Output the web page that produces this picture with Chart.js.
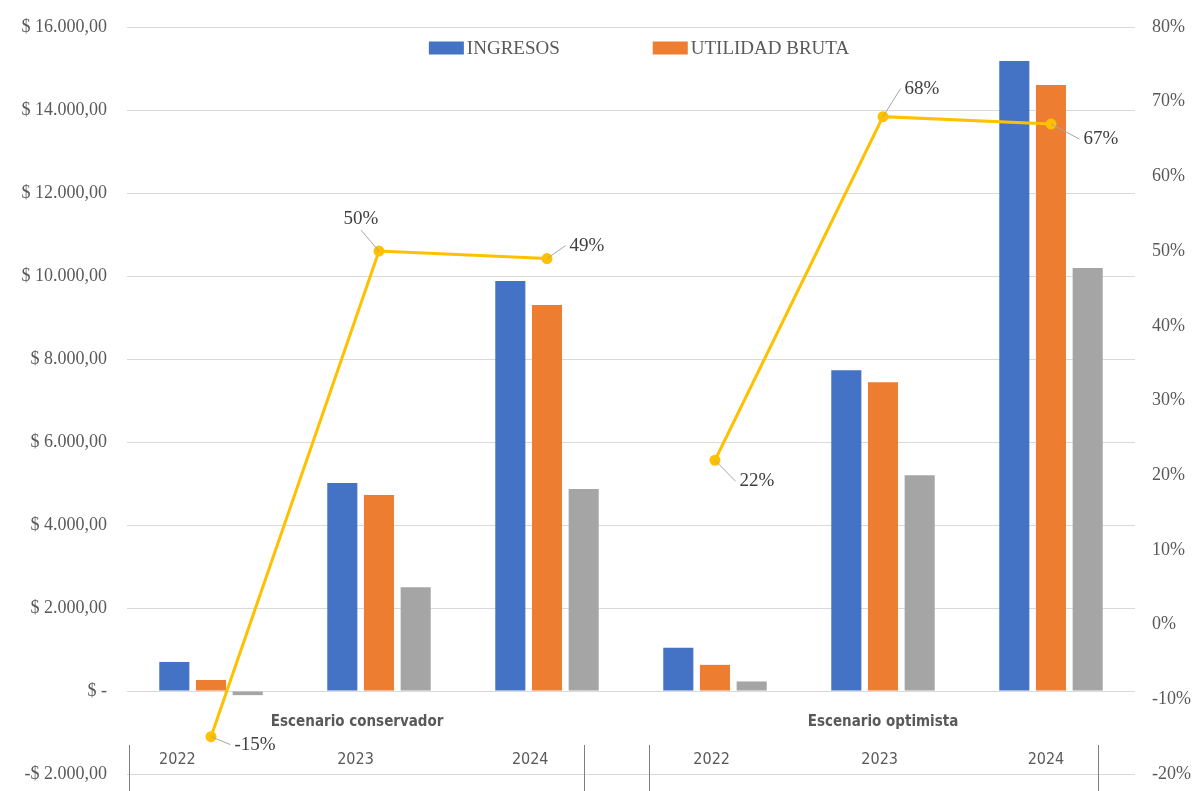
<!DOCTYPE html>
<html><head><meta charset="utf-8">
<script src="https://cdn.jsdelivr.net/npm/chart.js@4.4.1/dist/chart.umd.min.js"></script>
<style>html,body{margin:0;padding:0;background:#fff;}#wrap{width:1198px;height:791px;}</style>
</head><body><div id="wrap"><canvas id="c" width="1198" height="791"></canvas></div>
<script>
// ---- data ----
const years = ['2022', '2023', '2024', '2022', '2023', '2024'];
const groups = ['Escenario conservador', 'Escenario optimista'];
const ingresos = [700, 5010, 9880, 1040, 7730, 15180];
const utilidadBruta = [265, 4720, 9300, 630, 7440, 14600];
const utilidadNeta = [-100, 2500, 4870, 230, 5200, 10190];
const margen = [-15, 50, 49, 22, 68, 67];
const leftTicks = { min: -2000, max: 16000, step: 2000 };
const rightTicks = { min: -20, max: 80, step: 10 };

// ---- label placement (style) ----
const labelOffsets = [[44, 8], [-18, -32], [40, -13], [42, 21], [39, -28], [50, 15]];
const yearLabelShift = [-0.2, -0.14, -0.1, -0.02, -0.02, -0.03];
const groupLabelPos = [0.87, 4.0];
const separatorPos = [-0.49, 2.22, 2.61, 5.28];
const groupBreakAfter = 2; // line is not drawn between the two scenarios

const BLUE = '#4472C4', ORANGE = '#ED7D31', GRAY = '#A5A5A5', GOLD = '#FFC000';
const TXT = '#595959';
const SERIF = '"Liberation Serif", "Times New Roman", serif';
const COND = '"DejaVu Sans Condensed", "Liberation Sans Narrow", "Roboto Condensed", "Liberation Sans", sans-serif';

function money(v) {
  if (v === 0) return '$ -';
  const a = Math.abs(v).toFixed(2).split('.');
  const ip = a[0].replace(/\B(?=(\d{3})+(?!\d))/g, '.');
  return (v < 0 ? '-$ ' : '$ ') + ip + ',' + a[1];
}

const overlay = {
  id: 'overlay',
  afterDatasetsDraw(chart) {
    const ctx = chart.ctx;
    const meta = chart.getDatasetMeta(3);
    ctx.save();
    ctx.font = '19px ' + SERIF;
    ctx.textAlign = 'center';
    ctx.textBaseline = 'middle';
    meta.data.forEach((el, i) => {
      const [dx, dy] = labelOffsets[i];
      const txt = margen[i] + '%';
      const lx = el.x + dx, ly = el.y + dy;
      const tw = ctx.measureText(txt).width;
      let ax, ay;
      if (Math.abs(dy) > Math.abs(dx)) { ax = lx; ay = ly + (dy < 0 ? 11 : -11); }
      else { ax = lx - Math.sign(dx) * (tw / 2 + 4); ay = ly; }
      ctx.strokeStyle = '#A6A6A6';
      ctx.lineWidth = 1;
      ctx.beginPath();
      ctx.moveTo(el.x, el.y);
      ctx.lineTo(ax, ay);
      ctx.stroke();
      ctx.fillStyle = '#404040';
      ctx.fillText(txt, lx, ly);
    });
    ctx.restore();
  },
  afterDraw(chart) {
    const ctx = chart.ctx;
    const xs = chart.scales.x;
    const ca = chart.chartArea;
    const w = xs.getPixelForValue(1) - xs.getPixelForValue(0);
    const x0 = xs.getPixelForValue(0);
    ctx.save();
    // legend
    ctx.font = '19px ' + SERIF;
    ctx.textBaseline = 'middle';
    ctx.textAlign = 'left';
    const items = [['INGRESOS', BLUE], ['UTILIDAD BRUTA', ORANGE]];
    const boxW = 35, boxH = 13, gapT = 3, gapI = 93;
    const widths = items.map(it => boxW + gapT + ctx.measureText(it[0]).width);
    const total = widths[0] + gapI + widths[1];
    let lx = (ca.left + ca.right) / 2 - total / 2 + 8;
    const ly = ca.top + 21;
    items.forEach((it, i) => {
      ctx.fillStyle = it[1];
      ctx.fillRect(lx, ly - boxH / 2, boxW, boxH);
      ctx.fillStyle = TXT;
      ctx.fillText(it[0], lx + boxW + gapT, ly + 1);
      lx += widths[i] + gapI;
    });
    // year labels
    ctx.textAlign = 'center';
    ctx.font = '16px ' + COND;
    ctx.fillStyle = TXT;
    years.forEach((y, i) => {
      ctx.fillText(y, x0 + (i + yearLabelShift[i]) * w, ca.bottom - 14);
    });
    // group labels
    ctx.font = 'bold 15px ' + COND;
    groups.forEach((g, i) => {
      ctx.fillText(g, x0 + groupLabelPos[i] * w, ca.bottom - 52);
    });
    // separators
    ctx.strokeStyle = '#7F7F7F';
    ctx.lineWidth = 1;
    separatorPos.forEach(u => {
      const px = Math.round(x0 + u * w) + 0.5;
      ctx.beginPath();
      ctx.moveTo(px, ca.bottom - 29);
      ctx.lineTo(px, chart.height);
      ctx.stroke();
    });
    ctx.restore();
  }
};

new Chart(document.getElementById('c'), {
  data: {
    labels: years,
    datasets: [
      { type: 'bar', label: 'INGRESOS', data: ingresos, backgroundColor: BLUE, yAxisID: 'y', order: 2 },
      { type: 'bar', label: 'UTILIDAD BRUTA', data: utilidadBruta, backgroundColor: ORANGE, yAxisID: 'y', order: 2 },
      { type: 'bar', label: 'UTILIDAD NETA', data: utilidadNeta, backgroundColor: GRAY, yAxisID: 'y', order: 2 },
      { type: 'line', label: 'MARGEN', data: margen, borderColor: GOLD, backgroundColor: GOLD, borderWidth: 3,
        pointRadius: 4, pointBackgroundColor: GOLD, pointBorderColor: GOLD, yAxisID: 'y1', order: 0, tension: 0,
        segment: { borderColor: c => (c.p0DataIndex === groupBreakAfter ? 'rgba(0,0,0,0)' : undefined) } }
    ]
  },
  options: {
    responsive: false,
    animation: false,
    layout: { padding: { top: 27, bottom: 17, left: 0, right: 0 } },
    datasets: { bar: { categoryPercentage: 0.655, barPercentage: 0.82 } },
    plugins: { legend: { display: false }, tooltip: { enabled: false } },
    scales: {
      x: { type: 'category', display: false, offset: true, grid: { display: false } },
      y: {
        position: 'left', min: leftTicks.min, max: leftTicks.max,
        ticks: { stepSize: leftTicks.step, callback: v => money(v), color: TXT, font: { family: SERIF, size: 18 }, padding: 0 },
        grid: { color: '#D9D9D9', drawTicks: true, tickLength: 20, tickColor: 'rgba(0,0,0,0)' }, border: { display: false },
        afterFit: s => { s.width = 127; }
      },
      y1: {
        position: 'right', min: rightTicks.min, max: rightTicks.max,
        ticks: { stepSize: rightTicks.step, callback: v => v + '%', color: TXT, font: { family: SERIF, size: 18 }, padding: 0 },
        grid: { drawOnChartArea: false, drawTicks: true, tickLength: 17, tickColor: 'rgba(0,0,0,0)' }, border: { display: false },
        afterFit: s => { s.width = 63; }
      }
    }
  },
  plugins: [overlay]
});
</script></body></html>
